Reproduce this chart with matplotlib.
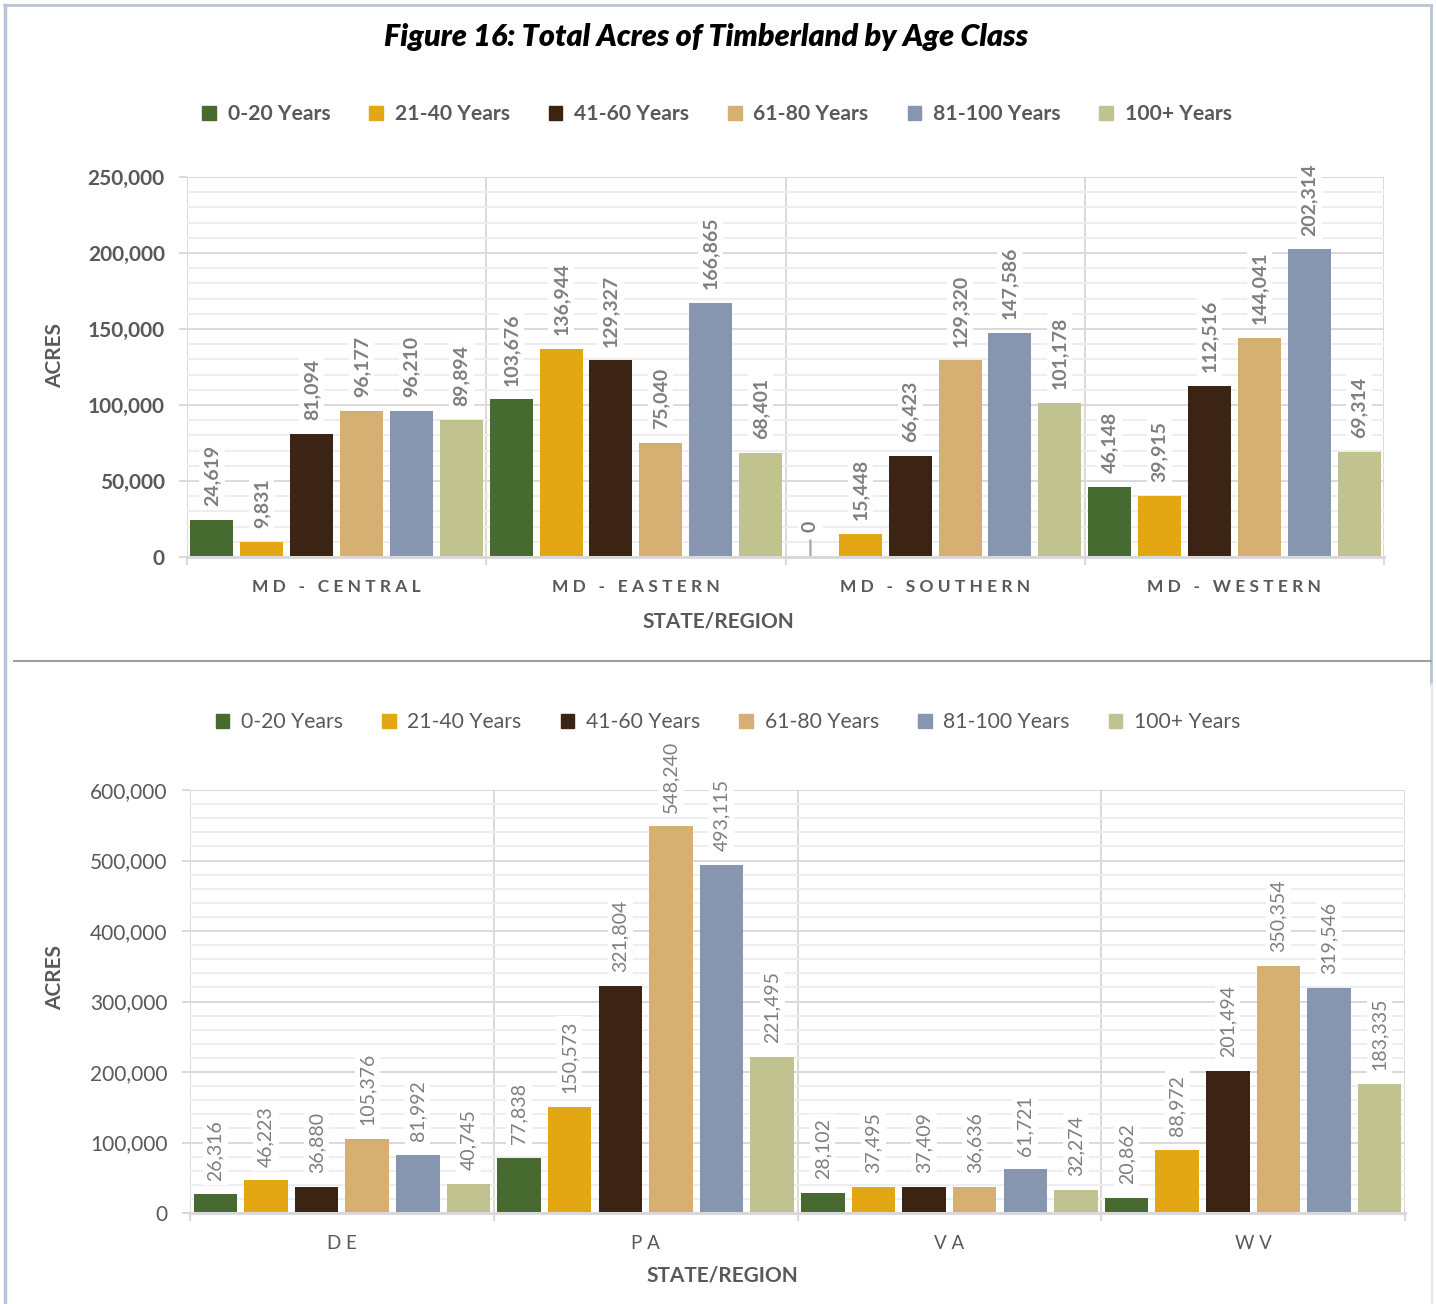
import matplotlib
matplotlib.use("Agg")
import matplotlib.pyplot as plt
from matplotlib.lines import Line2D
from matplotlib.patches import Patch
from matplotlib.ticker import FuncFormatter, MultipleLocator

W, H = 1436, 1304

plt.rcParams['font.family'] = ['Lato', 'DejaVu Sans']

age_classes = ["0-20 Years", "21-40 Years", "41-60 Years",
               "61-80 Years", "81-100 Years", "100+ Years"]
colors = ["#466a30", "#e3a714", "#3c2415", "#d5b072", "#8696b0", "#c0c38f"]

md_regions = ["MD - CENTRAL", "MD - EASTERN", "MD - SOUTHERN", "MD - WESTERN"]
md_central = [24619, 9831, 81094, 96177, 96210, 89894]
md_eastern = [103676, 136944, 129327, 75040, 166865, 68401]
md_southern = [0, 15448, 66423, 129320, 147586, 101178]
md_western = [46148, 39915, 112516, 144041, 202314, 69314]

states = ["DE", "PA", "VA", "WV"]
de_acres = [26316, 46223, 36880, 105376, 81992, 40745]
pa_acres = [77838, 150573, 321804, 548240, 493115, 221495]
va_acres = [28102, 37495, 37409, 36636, 61721, 32274]
wv_acres = [20862, 88972, 201494, 350354, 319546, 183335]

TEXT = "#595959"
LABEL = "#7f7f7f"
GRID = "#d9d9d9"
MINOR = "#eeeeee"


def fx(px):
    return px / W


def fy(py):
    return 1 - py / H


def comma(v, _=None):
    return f"{int(v):,}"


def spaced(s):
    return " ".join(s)


def panel(box, regions, rows, ymax, major, minor, weight,
          legend_xy, legend_size, ylabel_xy, xlabel_xy, cat_size):
    x0, y0, x1, y1 = box
    ax = fig.add_axes([fx(x0), fy(y1), fx(x1 - x0), (y1 - y0) / H])
    n = len(age_classes)
    slot = 1 / n
    for i, vals in enumerate(rows):
        for j, v in enumerate(vals):
            x = i - 0.5 + (j + 0.5) * slot
            ax.bar(x, v, width=slot * 0.86, color=colors[j], zorder=3)
            ann = dict(xy=(x, v), xytext=(0, 10), textcoords="offset points",
                       rotation=90, ha="center", va="bottom", fontsize=14,
                       color=LABEL, fontweight=weight, zorder=4,
                       bbox=dict(fc="white", ec="none", pad=3))
            if v == 0:
                # empty class: lift the label and tie it to the axis
                ann["xytext"] = (0, 18)
                ann["arrowprops"] = dict(arrowstyle="-", color="#a6a6a6", lw=1.6,
                                         shrinkA=3, shrinkB=0)
            ax.annotate(comma(v), **ann)

    ax.set_xlim(-0.5, len(regions) - 0.5)
    ax.set_ylim(0, ymax)
    ax.yaxis.set_major_locator(MultipleLocator(major))
    ax.yaxis.set_minor_locator(MultipleLocator(minor))
    ax.yaxis.set_major_formatter(FuncFormatter(comma))
    ax.set_xticks(range(len(regions)))
    ax.set_xticklabels([spaced(r) for r in regions])
    ax.set_xticks([k - 0.5 for k in range(len(regions) + 1)], minor=True)

    ax.grid(True, which="major", axis="y", color=GRID, lw=1.4, zorder=1)
    ax.grid(True, which="minor", axis="y", color=MINOR, lw=1.4, zorder=0)
    ax.grid(True, which="minor", axis="x", color=GRID, lw=1.4, zorder=1)
    for s in ["top", "right", "left"]:
        ax.spines[s].set_visible(False)
    ax.spines["bottom"].set_color(GRID)
    ax.spines["bottom"].set_linewidth(2.2)
    ax.spines["bottom"].set_zorder(5)

    ax.tick_params(axis="y", which="major", length=6, width=1.4, color=GRID,
                   pad=10, labelsize=15, labelcolor=TEXT)
    ax.tick_params(axis="y", which="minor", length=0)
    ax.tick_params(axis="x", which="major", length=0, pad=16, labelsize=cat_size,
                   labelcolor=TEXT)
    ax.tick_params(axis="x", which="minor", length=6, width=1.4, color=GRID)
    for t in ax.get_yticklabels() + ax.get_xticklabels():
        t.set_fontweight(weight)

    handles = [Patch(color=c) for c in colors]
    fig.legend(handles, age_classes, loc="center",
               bbox_to_anchor=(fx(legend_xy[0]), fy(legend_xy[1])),
               ncol=n, frameon=False, handlelength=0.65, handleheight=0.65,
               handletextpad=0.55, columnspacing=1.85,
               prop=dict(size=legend_size, weight=weight), labelcolor=TEXT)
    fig.text(fx(ylabel_xy[0]), fy(ylabel_xy[1]), "ACRES", rotation=90,
             ha="center", va="center", fontsize=15, fontweight="bold", color=TEXT)
    fig.text(fx(xlabel_xy[0]), fy(xlabel_xy[1]), "STATE/REGION",
             ha="center", va="center", fontsize=15, fontweight="bold", color=TEXT)
    return ax


fig = plt.figure(figsize=(W / 100, H / 100), dpi=100)

fig.text(fx(706), fy(37), "Figure 16: Total Acres of Timberland by Age Class",
         ha="center", va="center", fontsize=22, fontweight="heavy",
         fontstyle="italic", color="black")

panel((187, 177, 1384, 557), md_regions,
      [md_central, md_eastern, md_southern, md_western],
      250000, 50000, 10000, "bold", (717, 114), 15.2, (55, 355), (718, 622), 12.5)

panel((190, 790, 1405, 1213), states,
      [de_acres, pa_acres, va_acres, wv_acres],
      600000, 100000, 20000, "normal", (728, 722), 15.2, (55, 977), (722, 1275), 13.5)

# page frame around the two charts
frame = "#b8c4d6"
for xs, ys, c, lw in [
    ((4, 1431), (5, 5), frame, 2),
    ((5, 5), (5, 1304), frame, 2.5),
    ((1431, 1431), (5, 684), frame, 2),
    ((1432, 1432), (684, 1304), "#e6e6e6", 1.5),
    ((14, 1431), (661, 661), "#a0a0a0", 1.5),
]:
    fig.add_artist(Line2D([fx(x) for x in xs], [fy(y) for y in ys], color=c, lw=lw))

fig.savefig("out.png", dpi=100)
